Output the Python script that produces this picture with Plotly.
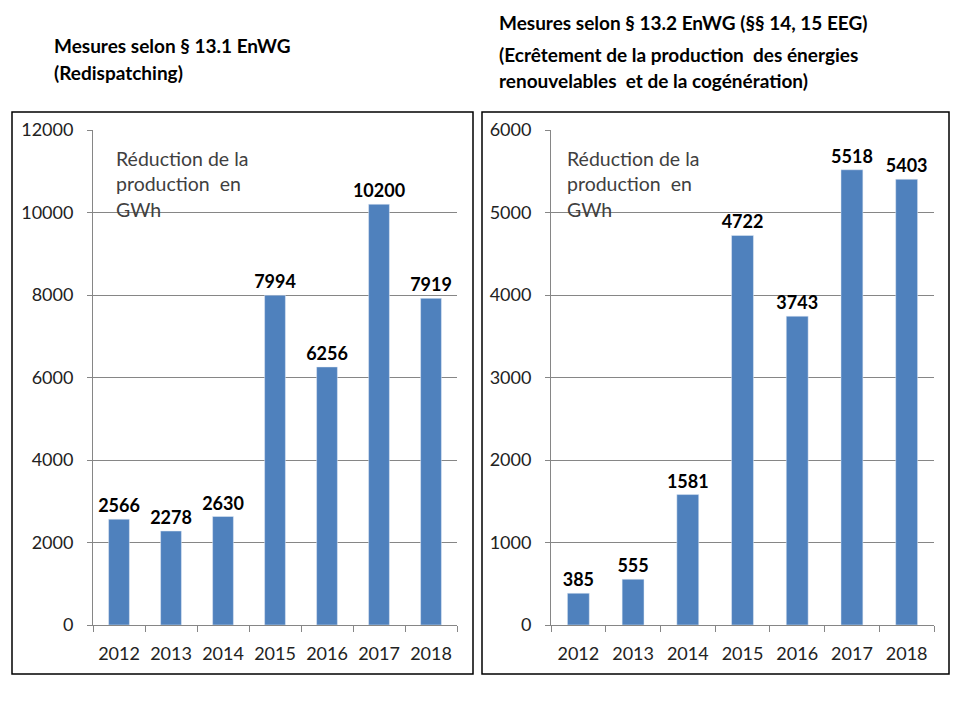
import plotly.graph_objects as go

# données
annees = ["2012", "2013", "2014", "2015", "2016", "2017", "2018"]
redispatching = [2566, 2278, 2630, 7994, 6256, 10200, 7919]
ecretement = [385, 555, 1581, 4722, 3743, 5518, 5403]

titre_gauche = ["Mesures selon § 13.1 EnWG", "(Redispatching)"]
titre_droite = ["Mesures selon § 13.2 EnWG (§§ 14, 15 EEG)",
                "(Ecrêtement de la production  des énergies",
                "renouvelables  et de la cogénération)"]
note = "Réduction de la<br>production  en<br>GWh"

FONT = "Lato"
BLEU = "#4F81BD"
GRIS = "#868686"
W, H = 960, 720


def px(x):
    return x / W


def py(y):
    return 1 - y / H


fig = go.Figure()

for xa, ya, vals in [("x", "y", redispatching), ("x2", "y2", ecretement)]:
    fig.add_trace(go.Bar(
        x=annees, y=vals, xaxis=xa, yaxis=ya,
        marker_color=BLEU, text=[str(v) for v in vals],
        textposition="outside", cliponaxis=False, constraintext="none",
        textfont=dict(family=FONT, size=18, color="black", weight="bold"),
    ))

xaxe = dict(showline=True, linecolor=GRIS, linewidth=1, ticks="outside",
            tickson="boundaries", ticklen=6, tickcolor=GRIS,
            ticklabelstandoff=12,
            tickfont=dict(family=FONT, size=18, color="#222222"),
            showgrid=False, automargin=False)
yaxe = dict(showline=True, linecolor=GRIS, linewidth=1, ticks="outside",
            ticklen=5, tickcolor=GRIS, showgrid=True, gridcolor=GRIS,
            gridwidth=1, zeroline=False, ticklabelstandoff=10,
            tickformat="d", automargin=False,
            tickfont=dict(family=FONT, size=18, color="#222222"))

fig.update_layout(
    width=W, height=H,
    margin=dict(l=0, r=0, t=0, b=0, pad=0),
    paper_bgcolor="white", plot_bgcolor="white",
    showlegend=False, bargap=0.6,
    font=dict(family=FONT),
    xaxis=dict(xaxe, domain=[px(93), px(457)], anchor="y"),
    yaxis=dict(yaxe, domain=[py(625), py(130)], range=[0, 12000],
               dtick=2000, anchor="x"),
    xaxis2=dict(xaxe, domain=[px(551), px(934)], anchor="y2"),
    yaxis2=dict(yaxe, domain=[py(625), py(130)], range=[0, 6000],
                dtick=1000, anchor="x2"),
)

# cadres
for x0, x1 in [(12, 473), (482, 949)]:
    fig.add_shape(type="rect", xref="paper", yref="paper",
                  x0=px(x0), x1=px(x1), y0=py(674), y1=py(112),
                  line=dict(color="black", width=1.5))

# titres
for i, t in enumerate(titre_gauche):
    fig.add_annotation(text=t, xref="paper", yref="paper", x=px(52),
                       y=py([45, 73][i]), xanchor="left", yanchor="middle",
                       showarrow=False,
                       font=dict(family=FONT, size=19, color="black", weight="bold"))
for i, t in enumerate(titre_droite):
    fig.add_annotation(text=t, xref="paper", yref="paper", x=px(497),
                       y=py([22, 55, 80][i]), xanchor="left", yanchor="middle",
                       showarrow=False,
                       font=dict(family=FONT, size=19, color="black", weight="bold"))

# note dans chaque graphique
for x in [114, 565]:
    fig.add_annotation(text=note, xref="paper", yref="paper", x=px(x),
                       y=py(145), xanchor="left", yanchor="top", align="left",
                       showarrow=False,
                       font=dict(family=FONT, size=19.5, color="#404040"))

fig.write_html("out.html", config={"displayModeBar": False},
               post_script="document.body.style.margin='0';")
